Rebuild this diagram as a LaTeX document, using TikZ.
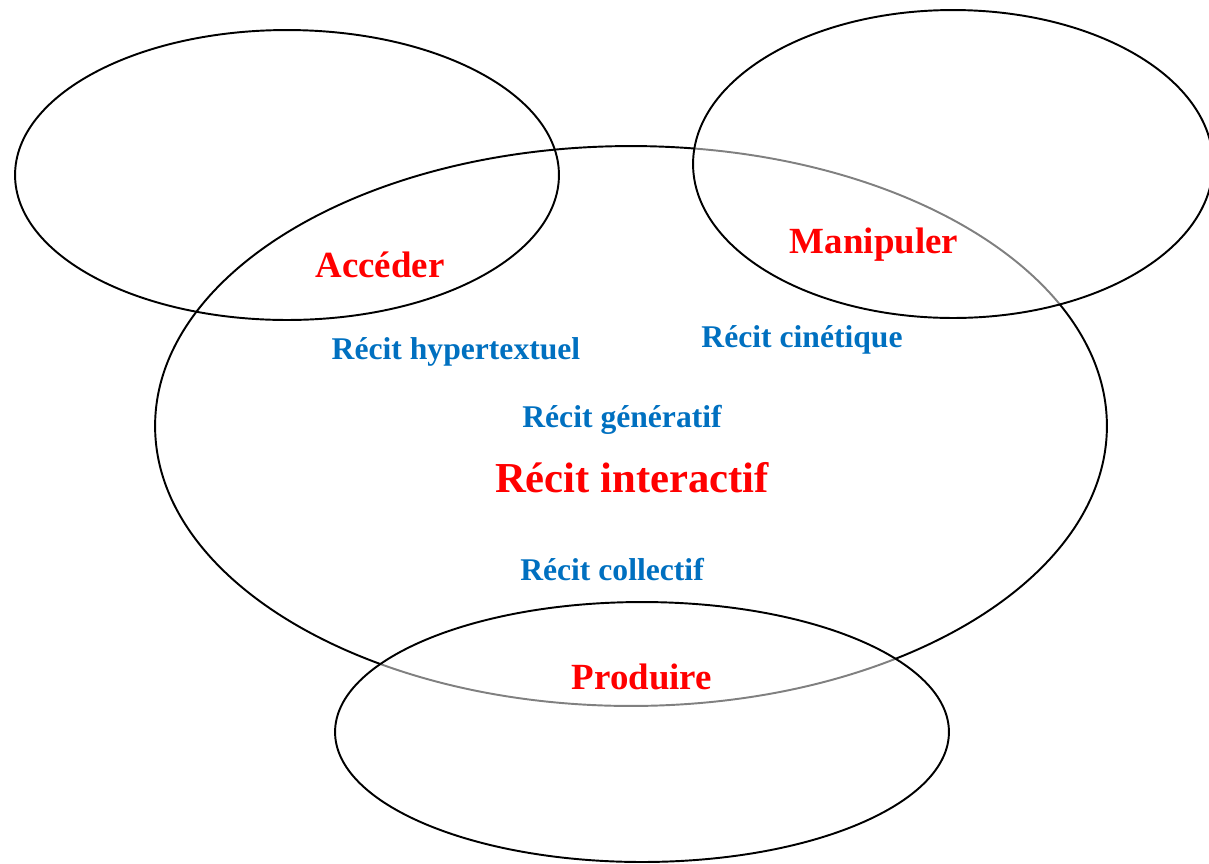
\documentclass[tikz,border=0pt]{standalone}
\usepackage{fontspec}
\setmainfont{Liberation Serif}
\definecolor{titlered}{RGB}{255,0,0}
\definecolor{subblue}{RGB}{0,112,192}
\begin{document}
\begin{tikzpicture}[x=0.02cm,y=-0.02cm,line width=1.1pt,
    pole/.style={text=titlered,font=\fontsize{21}{25}\selectfont\bfseries},
    kind/.style={text=subblue,font=\fontsize{18}{22}\selectfont\bfseries}]
        	\useasboundingbox (0,0) rectangle (1209,863);
        	% the three poles around the central one
        	\draw (287,175) ellipse [x radius=5.44cm, y radius=2.9cm];
        	\draw (631,426) ellipse [x radius=9.52cm, y radius=5.6cm];
        	\draw[fill=white,fill opacity=0.5] (953,164) ellipse [x radius=5.2cm, y radius=3.08cm];
        	\draw[fill=white,fill opacity=0.5] (642,732) ellipse [x radius=6.14cm, y radius=2.6cm];
            \node[pole] (acceder) at (380,265) {Accéder};
            \node[pole] (manipuler) at (874,245) {Manipuler};
            \node[pole] (produire) at (642,677) {Produire};
            \node[text=titlered,font=\fontsize{24.3}{29}\selectfont\bfseries] (interactif) at (632,478) {Récit interactif};
            \node[kind] (hypertextuel) at (456,352) {Récit hypertextuel};
            \node[kind] (cinetique) at (802,340) {Récit cinétique};
            \node[kind] (generatif) at (622,420) {Récit génératif};
            \node[kind] (collectif) at (612,570) {Récit collectif};
        \end{tikzpicture}
\end{document}
